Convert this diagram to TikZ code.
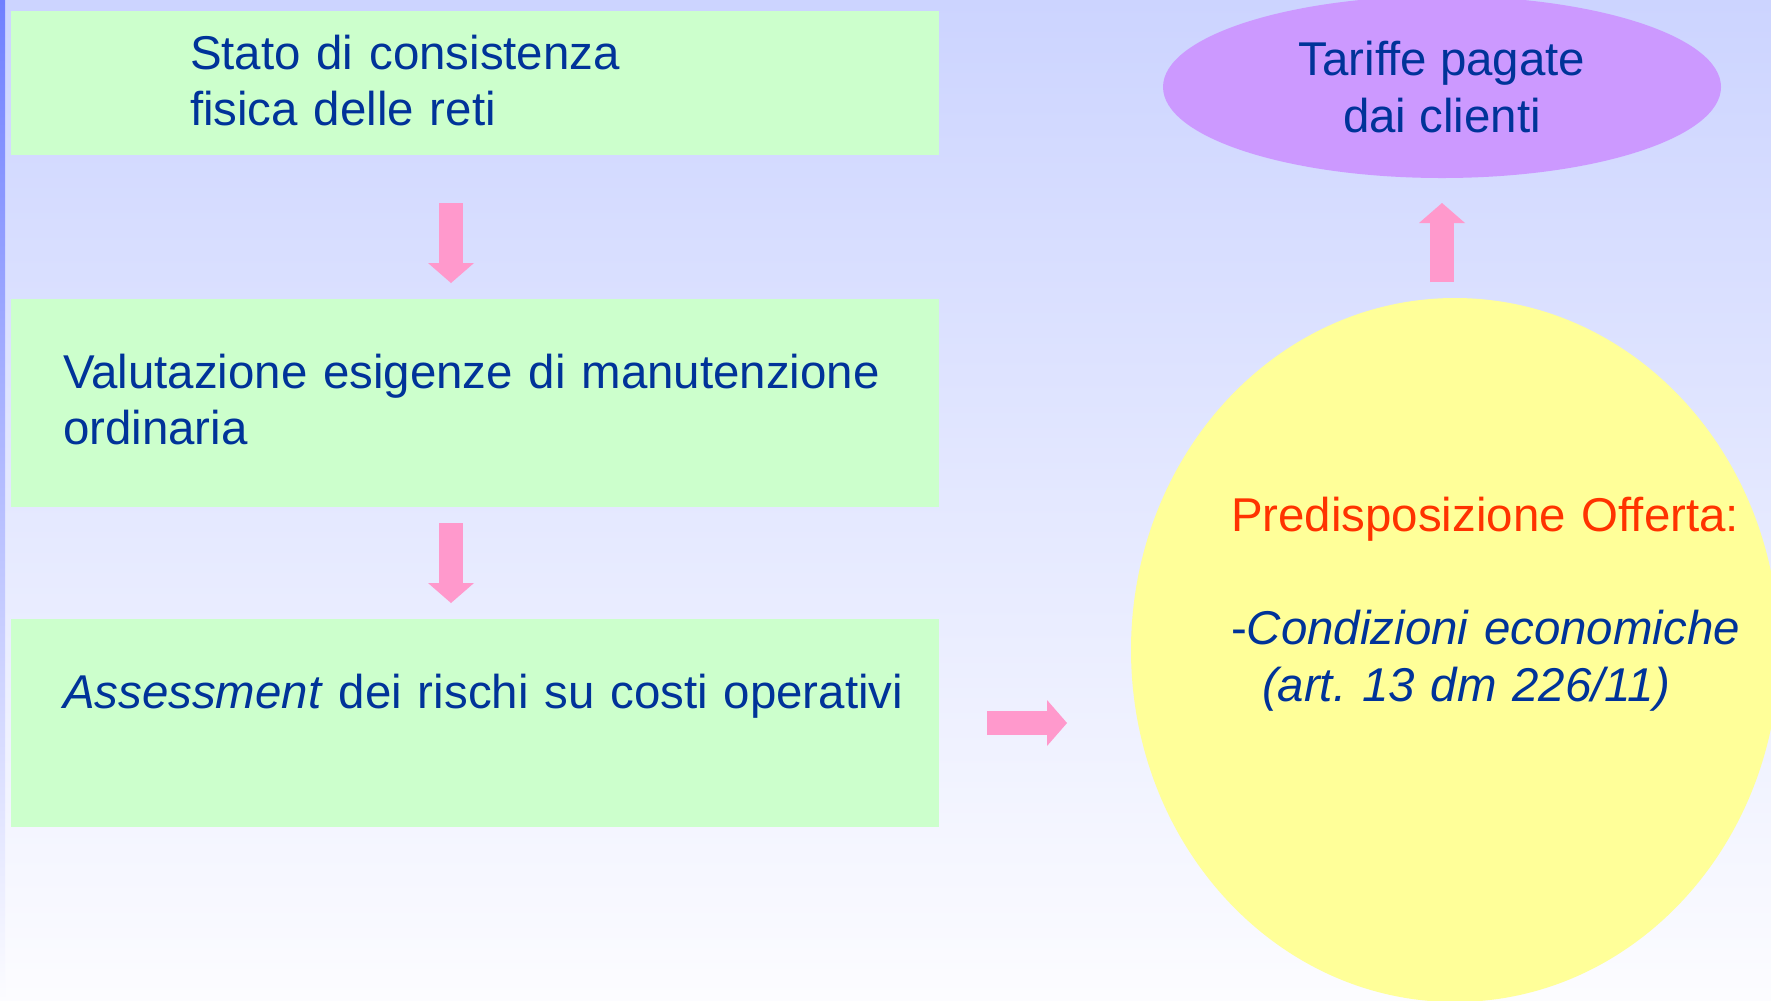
\documentclass[tikz,border=0pt]{standalone}
\usepackage{fontspec}
\setmainfont{Liberation Sans}
\usepackage{xcolor}
\usetikzlibrary{positioning,shapes.geometric,arrows.meta}
\frenchspacing

\definecolor{boxgreen}{HTML}{CCFFCC}
\definecolor{textblue}{HTML}{003399}
\definecolor{arrowpink}{HTML}{FF99CC}
\definecolor{tariffviolet}{HTML}{CC99FF}
\definecolor{offeryellow}{HTML}{FFFF99}
\definecolor{offerred}{HTML}{FF3300}
\definecolor{bgtop}{RGB}{204,212,255}
\definecolor{bgbottom}{RGB}{252,252,255}
\definecolor{striptop}{RGB}{112,128,255}

\begin{document}
\begin{tikzpicture}[x=0.1mm, y=-0.1mm,
    every node/.style={font=\fontsize{13.5pt}{16.2pt}\selectfont, text=textblue, inner sep=0pt, outer sep=0pt},
    block/.style={rectangle, fill=boxgreen, minimum width=92.8mm, minimum height=#1},
    block/.default=20.8mm,
    blocktext/.style={anchor=base west, text width=88mm, align=left},
    bubble/.style={ellipse, fill=#1},
    pinkarrow/.style={draw=arrowpink, line width=2.35mm, -{Triangle[length=2mm, width=4.6mm, line width=0pt]}}
]
    \clip (0,0) rectangle (1771,1000);
    \shade[top color=bgtop, bottom color=bgbottom] (0,0) rectangle (1771,1000);
    \shade[top color=striptop, bottom color=bgbottom] (0,0) rectangle (5,1000);

    \node[block=14.4mm] (stato) at (475,83) {};
    \node[block, below=14.4mm of stato] (valutazione) {};
    \node[block, below=11.2mm of valutazione] (assessment) {};

    \node[blocktext] (statotext) at (190,69) {Stato di consistenza\\fisica delle reti};
    \node[blocktext] (valutazionetext) at (63,388) {Valutazione esigenze di manutenzione\\ordinaria};
    \node[blocktext] (assessmenttext) at (63,708) {\textit{Assessment} dei rischi su costi operativi};

    \node[bubble=tariffviolet, minimum width=55.8mm, minimum height=18.2mm, align=center] (tariffe) at (1442,87) {Tariffe pagate\\dai clienti};
    \node[bubble=offeryellow, minimum width=64.8mm, minimum height=70.4mm] (offerta) at (1455,650) {};
    \node[blocktext, text width=60mm] (offertatext) at (1231,531) {\textcolor{offerred}{Predisposizione Offerta:}\\[16.2pt]
        -\textit{Condizioni economiche}\\
        \hspace*{3.1mm}\textit{(art. 13 dm 226/11)}};

    \draw[pinkarrow, shorten <=4.8mm, shorten >=1.6mm] ([xshift=-2.4mm]stato.south) -- ([xshift=-2.4mm]valutazione.north);
    \draw[pinkarrow, shorten <=1.6mm, shorten >=1.6mm] ([xshift=-2.4mm]valutazione.south) -- ([xshift=-2.4mm]assessment.north);
    \draw[pinkarrow, shorten <=4.8mm, shorten >=6.4mm] (assessment.east) -- (assessment.east -| offerta.west);
    \draw[pinkarrow, shorten <=1.6mm, shorten >=2.5mm] (offerta.north -| tariffe.south) -- (tariffe.south);
\end{tikzpicture}
\end{document}
